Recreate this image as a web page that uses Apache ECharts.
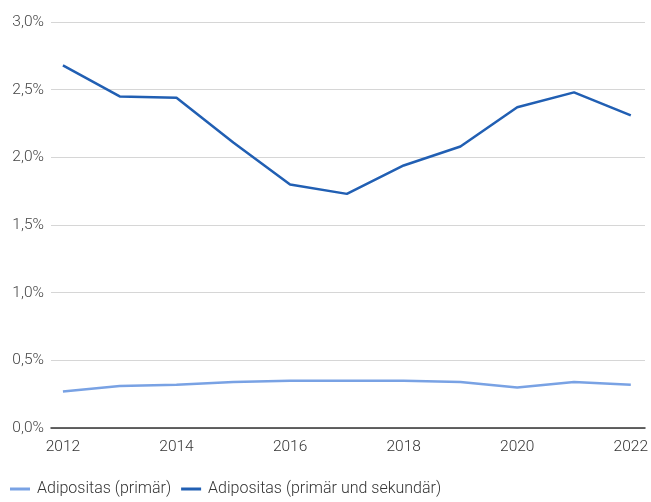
<!DOCTYPE html>
<html>
<head>
<meta charset="utf-8">
<script src="https://cdn.jsdelivr.net/npm/echarts@6/dist/echarts.min.js"></script>
<style>
  html, body { margin: 0; padding: 0; background: #fff; }
  #chart { width: 651px; height: 502px; }
</style>
</head>
<body>
<div id="chart"></div>
<script>
const years = [2012, 2013, 2014, 2015, 2016, 2017, 2018, 2019, 2020, 2021, 2022];
const primaer = [0.27, 0.31, 0.32, 0.34, 0.35, 0.35, 0.35, 0.34, 0.30, 0.34, 0.32];
const primaerSekundaer = [2.68, 2.45, 2.44, 2.11, 1.80, 1.73, 1.94, 2.08, 2.37, 2.48, 2.31];
const xTicks = [2012, 2014, 2016, 2018, 2020, 2022];
const seriesNames = ['Adipositas (primär)', 'Adipositas (primär und sekundär)'];

const chart = echarts.init(document.getElementById('chart'));
const font = 'Roboto, sans-serif';
const pair = (vals) => years.map((y, i) => [y, vals[i]]);

chart.setOption({
  animation: false,
  grid: { left: 51, right: 6, top: 22, bottom: 74 },
  legend: {
    left: 5, bottom: 0,
    itemWidth: 20, itemHeight: 3, itemGap: 10,
    icon: 'rect',
    textStyle: { fontFamily: font, fontSize: 16, fontWeight: 300, color: '#333', padding: [0, 0, 0, 2] },
    data: seriesNames
  },
  xAxis: {
    type: 'value',
    min: 2011.79, max: 2022.25,
    axisLine: { show: true, onZero: false, lineStyle: { color: '#333', width: 1.5 } },
    axisTick: { show: false },
    splitLine: { show: false },
    axisLabel: {
      customValues: xTicks,
      fontFamily: font, fontSize: 15.5, fontWeight: 300, color: '#333', margin: 11,
      formatter: (v) => String(v)
    }
  },
  yAxis: {
    type: 'value',
    min: 0, max: 3, interval: 0.5,
    axisLine: { show: false },
    axisTick: { show: false },
    splitLine: { lineStyle: { color: '#d6d6d6', width: 1 } },
    axisLabel: {
      fontFamily: font, fontSize: 15.5, fontWeight: 300, color: '#444', margin: 7,
      formatter: (v) => v.toFixed(1).replace('.', ',') + '%'
    }
  },
  series: [
    {
      name: seriesNames[0], type: 'line', data: pair(primaer),
      symbol: 'none', lineStyle: { color: '#79a2e4', width: 2.5 },
      itemStyle: { color: '#79a2e4' }
    },
    {
      name: seriesNames[1], type: 'line', data: pair(primaerSekundaer),
      symbol: 'none', lineStyle: { color: '#215fb3', width: 2.5 },
      itemStyle: { color: '#215fb3' }
    }
  ]
});
</script>
</body>
</html>
